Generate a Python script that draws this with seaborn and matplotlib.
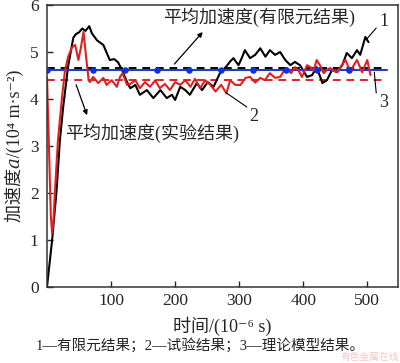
import matplotlib
matplotlib.use("Agg")
from matplotlib import pyplot as plt
from matplotlib import font_manager
from matplotlib.ft2font import FT2Font
import seaborn as sns

# finite element result (curve 1)
fe_time = [0, 4, 8, 15, 20, 25, 29, 33, 37, 41, 45, 50, 55, 60, 66, 70, 78, 88, 98, 105,
           111, 117, 125, 130, 138, 145, 156, 166, 177, 187, 195, 200, 208, 216, 223, 234,
           242, 251, 260, 270, 278, 286, 291, 299, 304, 309, 317, 325, 333, 341, 348, 356,
           364, 372, 380, 387, 395, 406, 414, 421, 430, 437, 445, 453, 461, 468, 476, 484,
           489, 497, 502]
fe_acc = [0, 0.5, 1.0, 2.06, 3.1, 3.8, 4.25, 4.7, 5.0, 5.3, 5.38, 5.42, 5.5, 5.45, 5.55,
          5.4, 5.25, 5.15, 4.83, 4.85, 4.78, 4.62, 4.36, 4.23, 4.3, 4.09, 4.19, 4.02, 4.19,
          4.02, 4.09, 3.98, 4.26, 4.19, 4.09, 4.34, 4.19, 4.36, 4.26, 4.55, 4.66, 4.8, 4.87,
          4.72, 4.87, 5.04, 4.87, 4.94, 5.08, 4.9, 5.04, 4.94, 5.0, 4.83, 4.72, 4.79, 4.72,
          4.47, 4.51, 4.68, 4.34, 4.4, 4.62, 4.57, 4.72, 4.98, 4.87, 5.04, 4.94, 5.32, 5.21]

# experimental result (curve 2)
exp_time = [0, 3, 6, 8, 10, 12.5, 17, 23, 28, 33, 39, 44, 49, 53, 57, 61, 65, 67, 72, 80,
            88, 93, 101, 109, 114, 118, 125, 130, 138, 145, 153, 161, 169, 176, 184, 192,
            200, 208, 216, 224, 231, 239, 247, 255, 263, 272, 280, 286, 294, 302, 310, 317,
            325, 333, 340, 348, 356, 364, 370, 375, 381, 387, 393, 398, 406, 411, 416, 421,
            427, 432, 437, 442, 448, 453, 460, 466, 470, 473, 479, 484, 488, 492, 496, 500, 505]
exp_acc = [4.45, 3.0, 1.5, 1.15, 1.4, 2.06, 3.1, 3.98, 4.6, 4.9, 5.1, 5.15, 4.83, 5.1, 5.43,
           4.9, 4.4, 4.36, 4.47, 4.34, 4.45, 4.3, 4.4, 4.26, 4.47, 4.55, 4.3, 4.32, 4.4, 4.23,
           4.36, 4.26, 4.4, 4.23, 4.32, 4.19, 4.36, 4.3, 4.4, 4.26, 4.43, 4.23, 4.4, 4.3, 4.16,
           4.3, 4.12, 4.4, 4.3, 4.3, 4.45, 4.47, 4.35, 4.45, 4.4, 4.55, 4.45, 4.47, 4.6, 4.66,
           4.55, 4.68, 4.6, 4.47, 4.72, 4.68, 4.6, 4.83, 4.7, 4.55, 4.62, 4.66, 4.6, 4.57, 4.72,
           4.83, 4.7, 4.57, 4.72, 4.83, 4.7, 4.57, 4.7, 4.83, 4.51]

# mean values and theoretical model (curve 3)
mean_span = [0, 531]
fe_mean = 4.66
exp_mean = 4.40
theory_acc = 4.62
theory_marks = [0, 72, 122, 172, 222, 272, 322, 373, 422, 472]

RED = "#e02020"
BLUE = "#1f3fc0"
FAMILIES = ["Liberation Serif", "DejaVu Serif", "DejaVu Sans", "Noto Sans CJK SC"]

sns.set_style("ticks")
plt.rcParams["font.family"] = FAMILIES


def has_glyph(ch):
    # check whether one of the serif fallbacks carries the character
    for fam in FAMILIES[:3]:
        path = font_manager.findfont(font_manager.FontProperties(family=fam))
        if ord(ch) in FT2Font(path).get_charmap():
            return True
    return False


ITALIC_A = "\U0001D44E" if has_glyph("\U0001D44E") else "a"

fig = plt.figure(figsize=(4, 3.63), dpi=100)
ax = fig.add_axes([0.1175, 0.2094, 0.8775, 0.778])

sns.lineplot(x=mean_span, y=[fe_mean] * 2, ax=ax, color="black", lw=1.4,
             linestyle=(0, (4, 3)), estimator=None)
sns.lineplot(x=mean_span, y=[exp_mean] * 2, ax=ax, color=RED, lw=1.4,
             linestyle=(0, (4, 3)), estimator=None)
sns.lineplot(x=fe_time, y=fe_acc, ax=ax, color="black", lw=1.5, estimator=None)
sns.lineplot(x=mean_span, y=[theory_acc] * 2, ax=ax, color=BLUE, lw=1.5, estimator=None)
sns.lineplot(x=exp_time, y=exp_acc, ax=ax, color=RED, lw=1.5, estimator=None)
sns.scatterplot(x=theory_marks, y=[theory_acc] * len(theory_marks), ax=ax, color="#1030e0",
                s=22, linewidth=0, zorder=5)

ax.set_xlim(0, 548)
ax.set_ylim(0, 6.01)
ax.set_xticks([100, 200, 300, 400, 500])
ax.set_yticks([0, 1, 2, 3, 4, 5, 6])
ax.tick_params(direction="in", length=4, width=1, labelsize=12.5, top=False, right=False)
ax.tick_params(axis="y", pad=6)
ax.tick_params(axis="x", pad=4)
for side in ax.spines.values():
    side.set_linewidth(1.1)
    side.set_color("#333333")

ax.set_xlabel("时间/(10\u207b\u2076 s)", fontsize=13, labelpad=6)
ax.set_ylabel("加速度" + ITALIC_A + "/(10\u2074 m·s\u207b\u00b2)", fontsize=13, labelpad=4)

# annotations
ax.text(181, 5.74, "平均加速度(有限元结果)", fontsize=13, va="center", ha="left")
ax.annotate("", xy=(246, 5.47), xytext=(196, 4.70),
            arrowprops=dict(arrowstyle="-|>", color="black", lw=0.9, mutation_scale=7))
ax.text(28, 3.28, "平均加速度(实验结果)", fontsize=13, va="center", ha="left")
ax.annotate("", xy=(64, 3.6), xytext=(44, 4.36),
            arrowprops=dict(arrowstyle="-|>", color="black", lw=0.9, mutation_scale=7))

ax.plot([498, 514], [5.26, 5.51], color="black", lw=0.8)
ax.text(519, 5.64, "1", fontsize=13, va="center", ha="left")
ax.plot([280, 312], [4.13, 3.83], color="black", lw=0.8)
ax.text(316, 3.62, "2", fontsize=13, va="center", ha="left")
ax.plot([511, 514], [4.57, 4.13], color="black", lw=0.8)
ax.text(518, 3.92, "3", fontsize=13, va="center", ha="left")

fig.text(0.09, 0.048, "1—有限元结果；2—试验结果；3—理论模型结果。", fontsize=10.5,
         ha="left", va="center", color="#222222")
fig.text(0.998, 0.002, "有色金属在线", fontsize=7, ha="right", va="bottom",
         color="#f2b8b8", alpha=0.8)

fig.savefig("out.png", dpi=100)
